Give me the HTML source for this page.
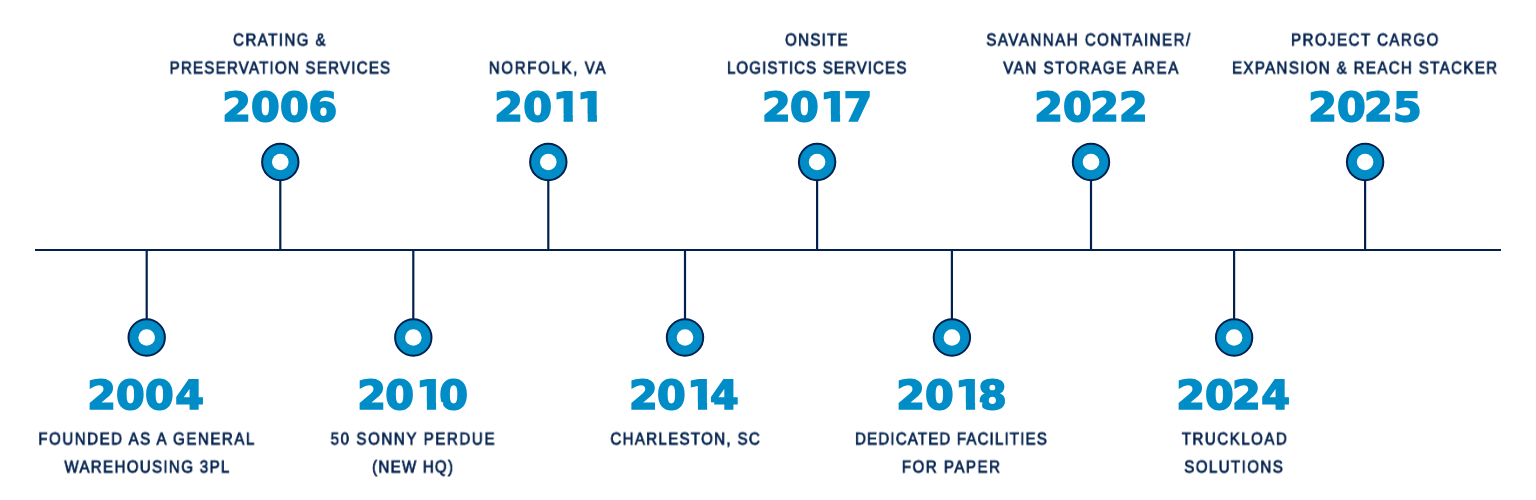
<!DOCTYPE html>
<html lang="en">
<head>
<meta charset="utf-8">
<title>Company Timeline</title>
<style>
html,body{margin:0;padding:0;background:#fff;width:1536px;height:500px;overflow:hidden;}
svg{display:block;will-change:transform;}
.half{will-change:transform;transform:translateY(-0.5px);}
.lbl{font-family:"Liberation Sans",sans-serif;font-size:17.25px;font-weight:400;fill:#02214e;stroke:#02214e;stroke-width:0.75px;text-rendering:geometricPrecision;}
.yr{font-family:"DejaVu Sans","Liberation Sans",sans-serif;font-size:40.05px;font-weight:700;fill:#008dc7;stroke:#008dc7;stroke-width:1.7px;text-rendering:geometricPrecision;}
</style>
</head>
<body>
<svg width="1536" height="500" viewBox="0 0 1536 500" role="img" aria-label="Company history timeline">
<defs>
<clipPath id="c2011"><rect x="488.3" y="76.0" width="116.4" height="38.3"/><rect x="488.30" y="114.1" width="66.90" height="14.9"/><rect x="563.64" y="109.0" width="9.16" height="20.0"/><rect x="587.74" y="109.0" width="9.16" height="20.0"/><rect x="604.09" y="114.1" width="0.61" height="14.9"/></clipPath>
<clipPath id="c2017"><rect x="756.0" y="76.0" width="122.0" height="38.3"/><rect x="756.05" y="114.1" width="66.45" height="14.9"/><rect x="830.94" y="109.0" width="9.16" height="20.0"/><rect x="847.29" y="114.1" width="30.71" height="14.9"/></clipPath>
<clipPath id="c2010"><rect x="351.4" y="364.0" width="123.5" height="38.3"/><rect x="351.40" y="402.1" width="67.10" height="14.9"/><rect x="426.94" y="397.0" width="9.16" height="20.0"/><rect x="443.29" y="402.1" width="31.61" height="14.9"/></clipPath>
<clipPath id="c2014"><rect x="623.0" y="364.0" width="122.7" height="38.3"/><rect x="623.05" y="402.1" width="66.45" height="14.9"/><rect x="697.94" y="397.0" width="9.16" height="20.0"/><rect x="714.29" y="402.1" width="31.41" height="14.9"/></clipPath>
<clipPath id="c2018"><rect x="890.4" y="364.0" width="122.6" height="38.3"/><rect x="890.40" y="402.1" width="67.10" height="14.9"/><rect x="965.94" y="397.0" width="9.16" height="20.0"/><rect x="982.29" y="402.1" width="30.71" height="14.9"/></clipPath>
</defs>
<rect class="axis" x="35" y="249" width="1466" height="2" fill="#02214e"/>
<g class="milestone lo" id="m2004">
  <rect class="stem" x="145.6" y="250.0" width="2.2" height="69.3" fill="#02214e"/>
  <circle class="ring" cx="146.7" cy="337.5" r="18.2" fill="#008dc7" stroke="#02214e" stroke-width="2.0"/>
  <circle class="hole" cx="146.7" cy="337.5" r="8.3" fill="#fff"/>
  <g class="year"><text class="yr" transform="scale(1.03,1)" x="84.67 112.50 140.68 170.05" y="409.00">2004</text></g>
  <g class="half"><text class="lbl" transform="translate(38.34,445.00) scale(0.872,1)" textLength="247.64" lengthAdjust="spacing">FOUNDED AS A GENERAL</text></g>
  <g class="half"><text class="lbl" transform="translate(64.41,473.00) scale(0.872,1)" textLength="189.06" lengthAdjust="spacing">WAREHOUSING 3PL</text></g>
</g>
<g class="milestone up" id="m2006">
  <rect class="stem" x="279.2" y="180.2" width="2.2" height="69.8" fill="#02214e"/>
  <circle class="ring" cx="280.3" cy="162.0" r="18.2" fill="#008dc7" stroke="#02214e" stroke-width="2.0"/>
  <circle class="hole" cx="280.3" cy="162.0" r="8.3" fill="#fff"/>
  <g class="year"><text class="yr" transform="scale(1.03,1)" x="215.69 243.64 271.89 299.59" y="121.00">2006</text></g>
  <g class="half"><text class="lbl" transform="translate(233.03,46.00) scale(0.872,1)" textLength="106.10" lengthAdjust="spacing">CRATING &amp;</text></g>
  <g class="half"><text class="lbl" transform="translate(169.60,74.00) scale(0.872,1)" textLength="252.89" lengthAdjust="spacing">PRESERVATION SERVICES</text></g>
</g>
<g class="milestone lo" id="m2010">
  <rect class="stem" x="412.2" y="250.0" width="2.2" height="69.3" fill="#02214e"/>
  <circle class="ring" cx="413.3" cy="337.5" r="18.2" fill="#008dc7" stroke="#02214e" stroke-width="2.0"/>
  <circle class="hole" cx="413.3" cy="337.5" r="8.3" fill="#fff"/>
  <g class="year" clip-path="url(#c2010)"><text class="yr" transform="scale(1.03,1)" x="346.83 373.98 403.89 426.50" y="409.00">2010</text></g>
  <g class="half"><text class="lbl" transform="translate(330.58,445.00) scale(0.872,1)" textLength="187.94" lengthAdjust="spacing">50 SONNY PERDUE</text></g>
  <g class="half"><text class="lbl" transform="translate(372.09,473.00) scale(0.872,1)" textLength="92.72" lengthAdjust="spacing">(NEW HQ)</text></g>
</g>
<g class="milestone up" id="m2011">
  <rect class="stem" x="547.2" y="180.2" width="2.2" height="69.8" fill="#02214e"/>
  <circle class="ring" cx="548.3" cy="162.0" r="18.2" fill="#008dc7" stroke="#02214e" stroke-width="2.0"/>
  <circle class="hole" cx="548.3" cy="162.0" r="8.3" fill="#fff"/>
  <g class="year" clip-path="url(#c2011)"><text class="yr" transform="scale(1.03,1)" x="479.76 508.03 536.61 560.00" y="121.00">2011</text></g>
  <g class="half"><text class="lbl" transform="translate(488.84,74.00) scale(0.872,1)" textLength="133.65" lengthAdjust="spacing">NORFOLK, VA</text></g>
</g>
<g class="milestone lo" id="m2014">
  <rect class="stem" x="683.9" y="250.0" width="2.2" height="69.3" fill="#02214e"/>
  <circle class="ring" cx="685.0" cy="337.5" r="18.2" fill="#008dc7" stroke="#02214e" stroke-width="2.0"/>
  <circle class="hole" cx="685.0" cy="337.5" r="8.3" fill="#fff"/>
  <g class="year" clip-path="url(#c2014)"><text class="yr" transform="scale(1.03,1)" x="610.69 637.77 666.99 689.42" y="409.00">2014</text></g>
  <g class="half"><text class="lbl" transform="translate(610.41,445.00) scale(0.872,1)" textLength="171.19" lengthAdjust="spacing">CHARLESTON, SC</text></g>
</g>
<g class="milestone up" id="m2017">
  <rect class="stem" x="816.0" y="180.2" width="2.2" height="69.8" fill="#02214e"/>
  <circle class="ring" cx="817.1" cy="162.0" r="18.2" fill="#008dc7" stroke="#02214e" stroke-width="2.0"/>
  <circle class="hole" cx="817.1" cy="162.0" r="8.3" fill="#fff"/>
  <g class="year" clip-path="url(#c2017)"><text class="yr" transform="scale(1.03,1)" x="739.81 766.89 796.12 819.04" y="121.00">2017</text></g>
  <g class="half"><text class="lbl" transform="translate(785.01,46.00) scale(0.872,1)" textLength="71.74" lengthAdjust="spacing">ONSITE</text></g>
  <g class="half"><text class="lbl" transform="translate(726.99,74.00) scale(0.872,1)" textLength="205.65" lengthAdjust="spacing">LOGISTICS SERVICES</text></g>
</g>
<g class="milestone lo" id="m2018">
  <rect class="stem" x="950.8" y="250.0" width="2.2" height="69.3" fill="#02214e"/>
  <circle class="ring" cx="951.9" cy="337.5" r="18.2" fill="#008dc7" stroke="#02214e" stroke-width="2.0"/>
  <circle class="hole" cx="951.9" cy="337.5" r="8.3" fill="#fff"/>
  <g class="year" clip-path="url(#c2018)"><text class="yr" transform="scale(1.03,1)" x="870.13 897.96 927.19 949.51" y="409.00">2018</text></g>
  <g class="half"><text class="lbl" transform="translate(854.99,445.00) scale(0.872,1)" textLength="219.96" lengthAdjust="spacing">DEDICATED FACILITIES</text></g>
  <g class="half"><text class="lbl" transform="translate(901.84,473.00) scale(0.872,1)" textLength="112.40" lengthAdjust="spacing">FOR PAPER</text></g>
</g>
<g class="milestone up" id="m2022">
  <rect class="stem" x="1089.9" y="180.2" width="2.2" height="69.8" fill="#02214e"/>
  <circle class="ring" cx="1091.0" cy="162.0" r="18.2" fill="#008dc7" stroke="#02214e" stroke-width="2.0"/>
  <circle class="hole" cx="1091.0" cy="162.0" r="8.3" fill="#fff"/>
  <g class="year"><text class="yr" transform="scale(1.03,1)" x="1004.11 1031.94 1058.38 1086.50" y="121.00">2022</text></g>
  <g class="half"><text class="lbl" transform="translate(986.34,46.00) scale(0.872,1)" textLength="233.75" lengthAdjust="spacing">SAVANNAH CONTAINER/</text></g>
  <g class="half"><text class="lbl" transform="translate(1003.24,74.00) scale(0.872,1)" textLength="200.65" lengthAdjust="spacing">VAN STORAGE AREA</text></g>
</g>
<g class="milestone lo" id="m2024">
  <rect class="stem" x="1233.0" y="250.0" width="2.2" height="69.3" fill="#02214e"/>
  <circle class="ring" cx="1234.1" cy="337.5" r="18.2" fill="#008dc7" stroke="#02214e" stroke-width="2.0"/>
  <circle class="hole" cx="1234.1" cy="337.5" r="8.3" fill="#fff"/>
  <g class="year"><text class="yr" transform="scale(1.03,1)" x="1141.97 1169.90 1196.24 1224.61" y="409.00">2024</text></g>
  <g class="half"><text class="lbl" transform="translate(1181.74,445.00) scale(0.872,1)" textLength="120.55" lengthAdjust="spacing">TRUCKLOAD</text></g>
  <g class="half"><text class="lbl" transform="translate(1184.26,473.00) scale(0.872,1)" textLength="112.98" lengthAdjust="spacing">SOLUTIONS</text></g>
</g>
<g class="milestone up" id="m2025">
  <rect class="stem" x="1364.0" y="180.2" width="2.2" height="69.8" fill="#02214e"/>
  <circle class="ring" cx="1365.1" cy="162.0" r="18.2" fill="#008dc7" stroke="#02214e" stroke-width="2.0"/>
  <circle class="hole" cx="1365.1" cy="162.0" r="8.3" fill="#fff"/>
  <g class="year"><text class="yr" transform="scale(1.03,1)" x="1270.13 1297.96 1324.40 1352.33" y="121.00">2025</text></g>
  <g class="half"><text class="lbl" transform="translate(1290.99,46.00) scale(0.872,1)" textLength="168.82" lengthAdjust="spacing">PROJECT CARGO</text></g>
  <g class="half"><text class="lbl" transform="translate(1231.99,74.00) scale(0.872,1)" textLength="303.94" lengthAdjust="spacing">EXPANSION &amp; REACH STACKER</text></g>
</g>
</svg>
</body>
</html>
